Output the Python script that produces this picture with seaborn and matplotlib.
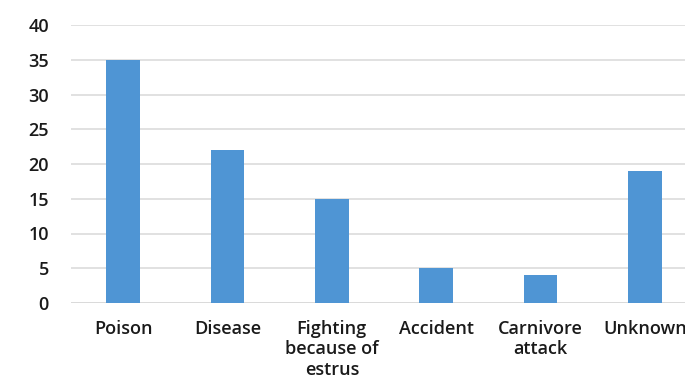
import matplotlib
matplotlib.use("Agg")
import matplotlib.pyplot as plt
import seaborn as sns
import pandas as pd

causes = ["Poison", "Disease", "Fighting\nbecause of\nestrus", "Accident",
          "Carnivore\nattack", "Unknown"]
counts = [35, 22, 15, 5, 4, 19]
y_ticks = [0, 5, 10, 15, 20, 25, 30, 35, 40]

df = pd.DataFrame({"cause": causes, "count": counts})

sns.set_theme(style="white")
plt.rcParams["font.family"] = ["Open Sans", "DejaVu Sans"]

fig = plt.figure(figsize=(6.85, 3.92), dpi=100)
ax = fig.add_axes([71 / 685, 1 - 303 / 392, 626 / 685, 278 / 392])

sns.barplot(data=df, x="cause", y="count", color="#4f95d4", saturation=1,
            width=0.32, linewidth=0, ax=ax, zorder=3)

ax.set_xlim(-0.5, 5.5)
ax.set_ylim(0, 40)
ax.set_yticks(y_ticks)
ax.yaxis.grid(True, color="#d9d9d9", linewidth=1.1, zorder=0)
ax.set_axisbelow(True)
for s in ax.spines.values():
    s.set_visible(False)
ax.axhline(0, color="#d9d9d9", linewidth=1.1, zorder=1)
ax.set_xlabel("")
ax.set_ylabel("")
ax.tick_params(axis="both", length=0, labelsize=13, colors="#1a1a1a")
ax.tick_params(axis="y", pad=16)
ax.tick_params(axis="x", pad=12)
for lbl in ax.get_xticklabels() + ax.get_yticklabels():
    lbl.set_fontweight("semibold")
for lbl in ax.get_xticklabels():
    lbl.set_linespacing(1.2)

fig.savefig("out.png", dpi=100)
